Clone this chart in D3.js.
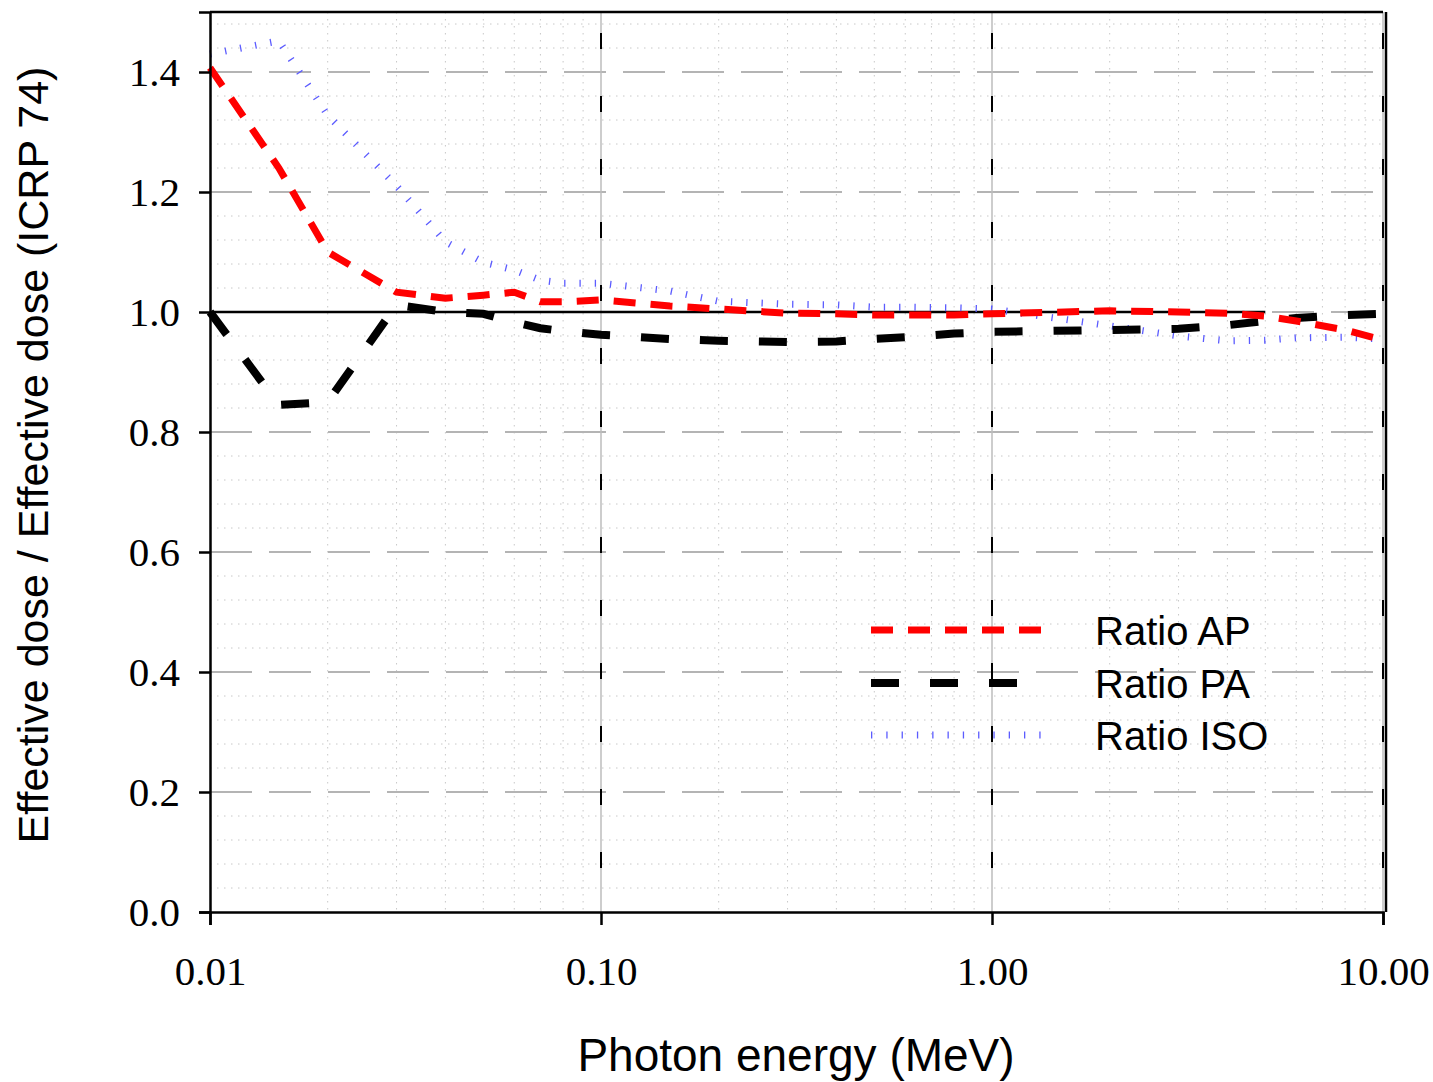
<!DOCTYPE html>
<html lang="en">
<head>
    <meta charset="UTF-8">
    <title>Effective dose ratio</title>
    <script src="https://d3js.org/d3.v7.min.js"></script>
    <style>
        body {
            margin: 0;
            background: #fff;
        }
        #chart svg {
            display: block;
        }
    </style>
</head>
<body>
    <div id="chart"></div>

    <script>
        // data
        const energies = [0.01, 0.015, 0.02, 0.03, 0.04, 0.05, 0.06, 0.07, 0.08, 0.1, 0.15, 0.2, 0.3, 0.4, 0.5, 0.6, 0.8, 1, 2, 3, 4, 5, 6, 8, 10];
        const ratioAP = [1.407, 1.24, 1.10, 1.033, 1.023, 1.028, 1.033, 1.017, 1.017, 1.02, 1.01, 1.005, 0.998, 0.997, 0.995, 0.995, 0.995, 0.997, 1.002, 1.0, 0.998, 0.993, 0.985, 0.97, 0.953];
        const ratioPA = [1.0, 0.845, 0.85, 1.012, 1.0, 0.997, 0.983, 0.973, 0.968, 0.962, 0.955, 0.952, 0.95, 0.951, 0.955, 0.958, 0.964, 0.967, 0.97, 0.972, 0.978, 0.985, 0.99, 0.995, 0.997];
        const ratioISO = [1.43, 1.452, 1.328, 1.21, 1.117, 1.083, 1.07, 1.053, 1.048, 1.048, 1.035, 1.018, 1.013, 1.012, 1.008, 1.008, 1.007, 1.005, 0.977, 0.96, 0.952, 0.953, 0.957, 0.958, 0.955];
        const refLineX = [0.01, 5];   // black unity line stops near 5 MeV
        const refLineY = 1.0;

        const xTicks = [0.01, 0.1, 1, 10];
        const xTickLabels = ["0.01", "0.10", "1.00", "10.00"];
        const yTicks = [0, 0.2, 0.4, 0.6, 0.8, 1.0, 1.2, 1.4];
        const seriesNames = ["Ratio AP", "Ratio PA", "Ratio ISO"];

        const width = 1433;
        const height = 1082;
        const margin = { top: 12, right: 50, bottom: 170, left: 210 };
        const w = width - margin.left - margin.right;
        const h = height - margin.top - margin.bottom;

        const svg = d3.select("#chart")
            .append("svg")
            .attr("width", width)
            .attr("height", height);

        const g = svg.append("g")
            .attr("transform", `translate(${margin.left},${margin.top})`);

        const x = d3.scaleLog().domain([0.01, 10]).range([0, w]);
        const y = d3.scaleLinear().domain([0, 1.5]).range([h, 0]);

        // minor grid (dotted)
        const xMinor = [];
        [0.01, 0.1, 1].forEach(d => { for (let k = 2; k <= 9; k++) xMinor.push(d * k); });
        const yMinor = d3.range(0, 1.5001, 0.04).filter(v => Math.abs(v / 0.2 - Math.round(v / 0.2)) > 1e-6);

        g.selectAll(".xminor").data(xMinor).enter().append("line")
            .attr("x1", d => x(d)).attr("x2", d => x(d))
            .attr("y1", 0).attr("y2", h)
            .attr("stroke", "#c8c8c8").attr("stroke-width", 1)
            .attr("stroke-dasharray", "1.5,5.5");

        g.selectAll(".yminor").data(yMinor).enter().append("line")
            .attr("x1", 0).attr("x2", w)
            .attr("y1", d => y(d)).attr("y2", d => y(d))
            .attr("stroke", "#c8c8c8").attr("stroke-width", 1)
            .attr("stroke-dasharray", "1.5,5.5");

        // major horizontal grid (gray long dashes)
        g.selectAll(".ymajor").data(yTicks.slice(1)).enter().append("line")
            .attr("x1", 0).attr("x2", w)
            .attr("y1", d => y(d)).attr("y2", d => y(d))
            .attr("stroke", "#b4b4b4").attr("stroke-width", 2)
            .attr("stroke-dasharray", "42,17");

        // major vertical grid: gray solid with black dashes on top
        g.selectAll(".xmajor").data(xTicks.slice(1)).enter().append("line")
            .attr("x1", d => x(d)).attr("x2", d => x(d))
            .attr("y1", 0).attr("y2", h)
            .attr("stroke", "#bdbdbd").attr("stroke-width", 1.5);

        g.selectAll(".xmajord").data(xTicks.slice(1)).enter().append("line")
            .attr("x1", d => x(d)).attr("x2", d => x(d))
            .attr("y1", 21).attr("y2", h)
            .attr("stroke", "#000").attr("stroke-width", 2)
            .attr("stroke-dasharray", "16,47");

        // unity reference line
        g.append("line")
            .attr("x1", x(refLineX[0])).attr("x2", x(refLineX[1]))
            .attr("y1", y(refLineY)).attr("y2", y(refLineY))
            .attr("stroke", "#000").attr("stroke-width", 2.5);

        // series
        const series = [
            { name: seriesNames[0], values: ratioAP, color: "#ff0000", width: 7, dash: "22,15" },
            { name: seriesNames[1], values: ratioPA, color: "#000000", width: 8, dash: "28,31" },
            { name: seriesNames[2], values: ratioISO, color: "#5c5cff", width: 7, dash: "1.3,14" }
        ];

        const line = d3.line()
            .x(d => x(d[0]))
            .y(d => y(d[1]));

        series.slice().reverse().forEach(s => {
            g.append("path")
                .datum(energies.map((e, i) => [e, s.values[i]]))
                .attr("fill", "none")
                .attr("stroke", s.color)
                .attr("stroke-width", s.width)
                .attr("stroke-dasharray", s.dash)
                .attr("d", line);
        });

        // frame
        g.append("line").attr("x1", 0).attr("x2", w).attr("y1", 0).attr("y2", 0)
            .attr("stroke", "#000").attr("stroke-width", 2.5);
        g.append("line").attr("x1", w + 3).attr("x2", w + 3).attr("y1", 0).attr("y2", h)
            .attr("stroke", "#000").attr("stroke-width", 2.5);

        // axes
        const xAxis = g.append("g")
            .attr("transform", `translate(0,${h})`)
            .call(d3.axisBottom(x).tickValues(xTicks).tickFormat((d, i) => xTickLabels[i]).tickSize(13).tickPadding(31));

        const yAxis = g.append("g")
            .call(d3.axisLeft(y).tickValues(yTicks).tickFormat(d3.format(".1f")).tickSize(11).tickPadding(19));

        [xAxis, yAxis].forEach(a => {
            a.select(".domain").attr("stroke", "#000").attr("stroke-width", 2.5);
            a.selectAll(".tick line").attr("stroke", "#000").attr("stroke-width", 2.5);
            a.selectAll(".tick text")
                .attr("fill", "#000")
                .style("font-family", "'Liberation Serif', 'Times New Roman', serif")
                .style("font-size", "41px");
        });

        // axis titles
        svg.append("text")
            .attr("x", 796)
            .attr("y", 1071)
            .attr("text-anchor", "middle")
            .style("font-family", "'Liberation Sans', Arial, sans-serif")
            .style("font-size", "46px")
            .text("Photon energy (MeV)");

        svg.append("text")
            .attr("transform", `translate(48,455) rotate(-90)`)
            .attr("text-anchor", "middle")
            .style("font-family", "'Liberation Sans', Arial, sans-serif")
            .style("font-size", "43px")
            .text("Effective dose / Effective dose (ICRP 74)");

        // legend
        const legendY = [630, 683, 735];
        const legend = svg.append("g");
        series.forEach((s, i) => {
            legend.append("line")
                .attr("x1", 871).attr("x2", 1044)
                .attr("y1", legendY[i]).attr("y2", legendY[i])
                .attr("stroke", s.color)
                .attr("stroke-width", s.width)
                .attr("stroke-dasharray", s.dash);
            legend.append("text")
                .attr("x", 1095)
                .attr("y", legendY[i] + 15)
                .style("font-family", "'Liberation Sans', Arial, sans-serif")
                .style("font-size", "40px")
                .text(s.name);
        });
    </script>
</body>
</html>
